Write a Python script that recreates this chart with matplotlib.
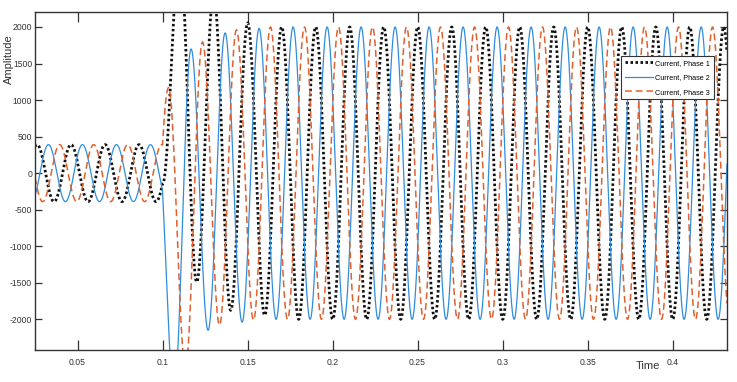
import numpy as np
import matplotlib.pyplot as plt

plt.rcParams['font.family'] = ['Liberation Sans', 'DejaVu Sans']

# time window, fault instant, supply period (50 Hz)
t_start, t_end = 0.025, 0.432
t_fault = 0.1
period = 0.02

labels = ['Current, Phase 1', 'Current, Phase 2', 'Current, Phase 3']
colors = ['#111111', '#2f8ddc', '#e0612f']
styles = [(0, (0.9, 0.9)), '-', (0, (4.5, 2.5))]
widths = [2.0, 0.9, 1.1]

# pre-fault: peak amplitude and time of a positive peak
pre_amp = [390, 390, 390]
pre_peak = [0.0062, 0.0129, 0.0195]

# post-fault extrema (one per half cycle), first one at post_first
post_first = [0.1101, 0.1068, 0.1035]
post_ext1 = [3000, -1490, 2450, -1877, 2055, -1945]
post_ext2 = [-2950, 1699, -2150, 1918, -2040, 1980]
post_ext3 = [1170, -2650, 1795, -2080, 1960, -2010]
steady_amp = 2000


def halfcos(kt, kv, t):
    kt = np.asarray(kt); kv = np.asarray(kv, dtype=float)
    i = np.clip(np.searchsorted(kt, t) - 1, 0, len(kt) - 2)
    f = (t - kt[i]) / (kt[i + 1] - kt[i])
    return kv[i] + (kv[i + 1] - kv[i]) * (1 - np.cos(np.pi * f)) / 2


def waveform(amp, peak, first, ext, t):
    half = period / 2
    # pre-fault knots
    k0 = int(np.floor((t_start - peak) / half)) - 1
    k1 = int(np.ceil((t_fault - peak) / half)) + 1
    pk_t = [peak + half * k for k in range(k0, k1 + 1)]
    pk_v = [amp if k % 2 == 0 else -amp for k in range(k0, k1 + 1)]
    pre = halfcos(pk_t, pk_v, t)
    y0 = halfcos(pk_t, pk_v, np.array([t_fault]))[0]
    # post-fault knots, with a virtual knot so the curve joins at the fault
    tv = first - half
    f = (1 - np.cos(np.pi * (t_fault - tv) / half)) / 2
    v = (y0 - ext[0] * f) / (1 - f)
    vals = [v] + list(ext)
    n_total = int(np.ceil((t_end - first) / half)) + 2
    s = np.sign(ext[-1])
    while len(vals) - 1 < n_total:
        s = -s
        vals.append(s * steady_amp)
    po_t = [tv + half * k for k in range(len(vals))]
    post = halfcos(po_t, vals, t)
    return np.where(t < t_fault, pre, post)


t = np.linspace(t_start, t_end, 8000)
currents = [
    waveform(pre_amp[0], pre_peak[0], post_first[0], post_ext1, t),
    waveform(pre_amp[1], pre_peak[1], post_first[1], post_ext2, t),
    waveform(pre_amp[2], pre_peak[2], post_first[2], post_ext3, t),
]

fig = plt.figure(figsize=(7.37, 3.82), dpi=100)
ax = fig.add_axes([0.0475, 0.0838, 0.9389, 0.8848])

for y, lab, c, ls, lw in zip(currents, labels, colors, styles, widths):
    ax.plot(t, y, color=c, linestyle=ls, linewidth=lw, label=lab)

ax.set_xlim(t_start, t_end)
ax.set_ylim(-2420, 2205)

xt = [0.05, 0.1, 0.15, 0.2, 0.25, 0.3, 0.35, 0.4]
ax.set_xticks(xt)
ax.set_xticklabels(['0.05', '0.1', '0.15', '0.2', '0.25', '0.3', '0.35', '0.4'])
yt = [-2000, -1500, -1000, -500, 0, 500, 1000, 1500, 2000]
ax.set_yticks(yt)
ax.set_yticklabels([str(v) for v in yt])

ax.tick_params(axis='x', direction='in', top=True, length=7, width=0.9,
               pad=6, labelsize=6.2, labelcolor='#333333', color='#333333')
ax.tick_params(axis='y', direction='in', right=True, length=5, width=0.9,
               pad=2, labelsize=6.2, labelcolor='#333333', color='#333333')
for sp in ax.spines.values():
    sp.set_color('#333333')
    sp.set_linewidth(1.0)

ax.set_ylabel('Amplitude', fontsize=8, color='#333333')
ax.yaxis.set_label_coords(-0.030, 0.86)
ax.set_xlabel('Time', fontsize=8, color='#333333')
ax.xaxis.set_label_coords(0.886, -0.033)

leg = ax.legend(loc='upper right', bbox_to_anchor=(0.981, 0.870), fontsize=5.2,
                frameon=True, fancybox=False, handlelength=3.9, borderpad=0.5,
                labelspacing=1.05, handletextpad=0.35, borderaxespad=0)
leg.get_frame().set_edgecolor('#333333')
leg.get_frame().set_linewidth(0.8)
leg.get_frame().set_alpha(1)

fig.savefig('out.png', dpi=100)
